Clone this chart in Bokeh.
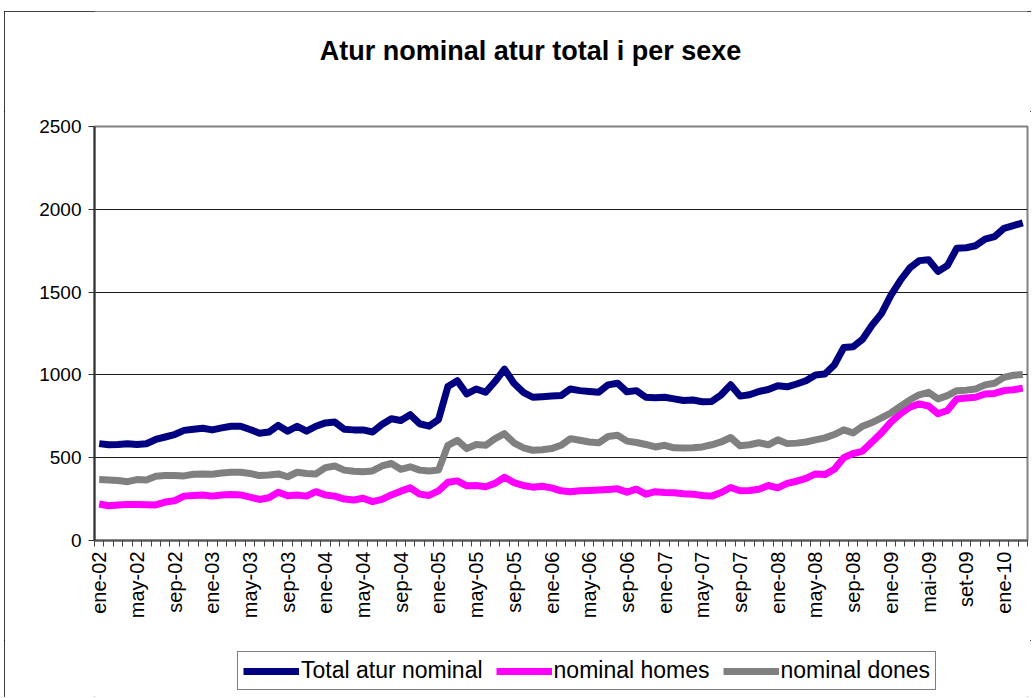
import math
from bokeh.plotting import figure
from bokeh.layouts import column
from bokeh.models import Range1d, FixedTicker, Legend, LegendItem, Label, ColumnDataSource
from bokeh.embed import file_html
from bokeh.resources import INLINE

# Monthly series, Jan 2002 .. Mar 2010 (99 months)
months = list(range(99))

total = [585, 578, 580, 584, 580, 584, 610, 625, 640, 665,
         672, 678, 668, 680, 690, 690, 670, 648, 655, 695,
         660, 690, 660, 690, 710, 715, 672, 668, 668, 655,
         700, 735, 725, 760, 705, 690, 730, 930, 965, 885,
         915, 895, 960, 1035, 950, 895, 865, 868, 872, 875,
         915, 905, 900, 895, 940, 950, 898, 905, 865, 862,
         865, 855, 845, 848, 838, 840, 880, 940, 872, 880,
         900, 912, 935, 928, 945, 965, 1000, 1005, 1060, 1165,
         1170, 1215, 1300, 1370, 1480, 1570, 1645, 1690, 1695, 1625,
         1660, 1765, 1768, 1780, 1820, 1835, 1885, 1902, 1918]

homes = [220, 210, 215, 218, 218, 216, 215, 232, 240, 268,
         272, 275, 268, 275, 278, 275, 262, 248, 258, 292,
         270, 275, 268, 295, 275, 268, 250, 245, 255, 235,
         248, 275, 298, 318, 280, 272, 300, 352, 360, 330,
         332, 325, 345, 382, 350, 332, 322, 328, 318, 300,
         295, 300, 302, 305, 308, 312, 292, 310, 280, 295,
         290, 288, 282, 280, 272, 268, 290, 320, 300, 302,
         310, 332, 318, 345, 358, 375, 402, 398, 430, 500,
         525, 540, 595, 650, 715, 765, 805, 825, 812, 765,
         785, 855, 860, 865, 885, 888, 905, 910, 920]

dones = [368, 366, 362, 355, 368, 366, 388, 392, 392, 390,
         400, 402, 400, 408, 412, 412, 405, 392, 395, 402,
         385, 412, 405, 402, 440, 450, 425, 418, 415, 420,
         450, 465, 430, 445, 425, 420, 425, 575, 605, 555,
         580, 575, 615, 645, 590, 560, 545, 548, 555, 575,
         615, 605, 595, 590, 628, 635, 600, 592, 580, 565,
         575, 560, 558, 560, 565, 578, 595, 622, 572, 578,
         590, 578, 608, 585, 588, 595, 608, 620, 640, 668,
         650, 690, 712, 740, 770, 810, 848, 880, 895, 855,
         875, 905, 908, 915, 940, 950, 985, 998, 1002]

tick_months = list(range(0, 99, 4))
tick_labels = ["ene-02", "may-02", "sep-02", "ene-03", "may-03", "sep-03",
               "ene-04", "may-04", "sep-04", "ene-05", "may-05", "sep-05",
               "ene-06", "may-06", "sep-06", "ene-07", "may-07", "sep-07",
               "ene-08", "may-08", "sep-08", "ene-09", "mai-09", "set-09",
               "ene-10"]
y_ticks = [0, 500, 1000, 1500, 2000, 2500]

series_cols = ["total", "homes", "dones"]
series_names = ["Total atur nominal", "nominal homes", "nominal dones"]
series_colors = ["#000080", "#FF00FF", "#808080"]
chart_title = "Atur nominal atur total i per sexe"

FONT = "Liberation Sans"
W = 1027

src = ColumnDataSource(dict(x=[m + 0.5 for m in months], total=total, homes=homes, dones=dones))


def blank_panel(h):
    f = figure(width=W, height=h, output_backend="svg", toolbar_location=None,
               x_axis_type=None, y_axis_type=None, title=None,
               x_range=Range1d(0, 1), y_range=Range1d(0, 1), min_border=0)
    f.outline_line_color = None
    f.background_fill_color = "white"
    f.border_fill_color = "white"
    return f


# ---- title panel ----
p0 = blank_panel(100)
p0.add_layout(Label(x=436, y=61, x_units="screen", y_units="screen",
                    text=chart_title, text_font=FONT, text_font_size="27px",
                    text_font_style="bold", text_color="black",
                    text_align="center", text_baseline="alphabetic"))

# ---- main chart ----
p = figure(width=W, height=529, output_backend="svg", toolbar_location=None, title=None,
           x_range=Range1d(0, len(months)), y_range=Range1d(0, 2500),
           min_border_left=90, min_border_right=4, min_border_top=15, min_border_bottom=100)
p.background_fill_color = "white"
p.border_fill_color = "white"
p.outline_line_color = "#808080"
p.outline_line_width = 2

p.yaxis.ticker = FixedTicker(ticks=y_ticks)
p.yaxis.major_label_text_font = FONT
p.yaxis.major_label_text_font_size = "19px"
p.yaxis.major_label_text_color = "black"
p.yaxis.major_tick_out = 6
p.yaxis.major_tick_in = 0
p.yaxis.minor_tick_out = 0
p.yaxis.minor_tick_in = 0
p.yaxis.axis_line_color = "#333333"
p.yaxis.axis_line_width = 2
p.yaxis.major_tick_line_color = "#333333"
p.yaxis.major_label_standoff = 7

p.xaxis.ticker = FixedTicker(ticks=[m + 0.5 for m in tick_months],
                             minor_ticks=list(range(0, len(months) + 1)))
p.xaxis.major_label_overrides = {m + 0.5: lab for m, lab in zip(tick_months, tick_labels)}
p.xaxis.major_label_orientation = math.pi / 2
p.xaxis.major_label_text_font = FONT
p.xaxis.major_label_text_font_size = "20px"
p.xaxis.major_label_text_color = "black"
p.xaxis.major_tick_out = 0
p.xaxis.major_tick_in = 0
p.xaxis.minor_tick_out = 6
p.xaxis.minor_tick_in = 0
p.xaxis.minor_tick_line_color = "#444444"
p.xaxis.axis_line_color = "#555555"
p.xaxis.axis_line_width = 2
p.xaxis.major_label_standoff = 5

p.xgrid.visible = False
p.ygrid.ticker = FixedTicker(ticks=y_ticks)
p.ygrid.grid_line_color = "#1a1a1a"
p.ygrid.grid_line_width = 1

for col, color in zip(series_cols, series_colors):
    p.line("x", col, source=src, line_color=color, line_width=7, line_join="round")

# ---- legend panel (same series; they fall outside this panel's ranges, only the legend shows) ----
p2 = blank_panel(57)
leg_renderers = [p2.line("x", col, source=src, line_color=c, line_width=7)
                 for col, c in zip(series_cols, series_colors)]
legend = Legend(items=[LegendItem(label=n, renderers=[r]) for n, r in zip(series_names, leg_renderers)],
                orientation="horizontal", location=(143, 7),
                label_text_font=FONT, label_text_font_size="23px", label_text_color="black",
                glyph_width=56, glyph_height=20, label_standoff=2, spacing=13,
                padding=5, margin=0, label_height=26,
                border_line_color="black", border_line_width=1,
                background_fill_color="white", background_fill_alpha=1.0)
p2.add_layout(legend, "center")

layout = column(p0, p, p2, spacing=0,
                styles={"margin-left": "4px", "margin-top": "11px",
                        "outline": "1px solid #000000", "outline-offset": "-1px"})

with open("out.html", "w") as f:
    f.write(file_html(layout, INLINE))
